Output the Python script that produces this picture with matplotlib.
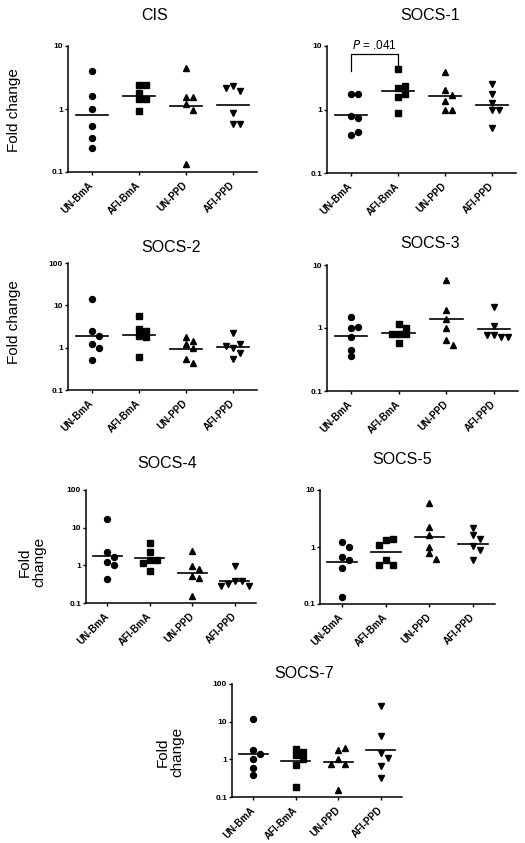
import numpy as np
import matplotlib.pyplot as plt
from matplotlib.ticker import FixedLocator, NullLocator

plt.rcParams['font.family'] = ['Liberation Sans', 'DejaVu Sans']

# groups on the x axis
groups = ['UN-BmA', 'AFI-BmA', 'UN-PPD', 'AFI-PPD']

# fold change values, one list per group
cis = [[4.0, 1.63, 1.0, 0.54, 0.345, 0.237],
       [2.41, 2.41, 1.82, 1.43, 1.43, 0.92],
       [4.5, 1.19, 1.55, 1.55, 0.98, 0.135],
       [2.35, 1.96, 2.13, 0.87, 0.57, 0.57]]
cis_med = [0.81, 1.63, 1.12, 1.16]

socs1 = [[1.74, 1.74, 0.80, 0.73, 0.39, 0.44],
         [4.35, 2.16, 2.33, 1.74, 1.56, 0.89],
         [3.9, 2.06, 1.68, 1.37, 0.99, 0.99],
         [2.56, 1.78, 1.27, 0.99, 0.99, 0.51]]
socs1_med = [0.81, 1.96, 1.62, 1.16]

socs2 = [[14.5, 2.5, 1.92, 1.22, 1.0, 0.5],
         [5.5, 2.77, 1.92, 2.48, 1.76, 0.61],
         [1.76, 1.22, 1.41, 0.96, 0.54, 0.43],
         [2.18, 0.96, 1.2, 1.11, 0.73, 0.53]]
socs2_med = [1.89, 2.03, 0.95, 1.04]

socs3 = [[1.48, 1.0, 1.04, 0.71, 0.45, 0.36],
         [1.14, 1.0, 0.80, 0.80, 0.80, 0.57],
         [5.8, 1.91, 1.39, 1.0, 0.65, 0.54],
         [2.15, 1.09, 0.77, 0.73, 0.77, 0.73]]
socs3_med = [0.75, 0.84, 1.37, 0.98]

socs4 = [[17.5, 2.22, 1.63, 1.23, 1.0, 0.44],
         [3.8, 2.26, 1.41, 1.39, 1.13, 0.69],
         [2.36, 0.98, 0.8, 0.52, 0.47, 0.15],
         [0.96, 0.38, 0.38, 0.32, 0.29, 0.29]]
socs4_med = [1.81, 1.57, 0.64, 0.38]

socs5 = [[1.21, 1.0, 0.67, 0.58, 0.42, 0.133],
         [1.33, 1.36, 1.1, 0.58, 0.48, 0.48],
         [5.8, 2.21, 1.6, 1.0, 0.77, 0.62],
         [2.12, 1.62, 1.38, 1.04, 0.87, 0.58]]
socs5_med = [0.545, 0.81, 1.5, 1.14]

socs7 = [[11.8, 1.81, 1.42, 1.0, 0.6, 0.39],
         [1.92, 1.57, 1.28, 1.0, 0.71, 0.18],
         [1.81, 1.96, 1.0, 0.74, 0.74, 0.15],
         [25.8, 4.2, 1.47, 1.1, 0.68, 0.31]]
socs7_med = [1.36, 0.92, 0.85, 1.81]

# p value bracket on SOCS-1 (left end, right end, top)
p_text = '.041'
p_left, p_right, p_top = 4.05, 4.7, 7.4

W, H = 525, 843
fig = plt.figure(figsize=(W / 100, H / 100), dpi=100)

markers = ['o', 's', '^', 'v']
msizes = [4.3, 4.0, 4.6, 4.6]


def px_axes(l, t, r, b):
    return fig.add_axes([l / W, 1 - b / H, (r - l) / W, (b - t) / H])


def swarm_x(ax, vals, xc, step_px=7.0, min_px=6.0):
    tr = ax.transData
    unit = tr.transform((1, 1))[0] - tr.transform((0, 1))[0]
    placed = []
    xs = []
    for v in vals:
        y = tr.transform((xc, v))[1]
        for s in [0, 1, -1, 2, -2, 3, -3]:
            if all(not (ps == s and abs(py - y) < min_px) for ps, py in placed):
                break
        placed.append((s, y))
        xs.append(xc + s * step_px / unit)
    return xs


def panel(box, title, title_xy, data, med, ymax, ylabel=None, ylabel_xy=None):
    ax = px_axes(*box)
    ax.set_yscale('log')
    ax.set_xlim(-0.5, 3.5)
    ax.set_ylim(0.1, ymax)
    for side in ['top', 'right']:
        ax.spines[side].set_visible(False)
    for side in ['left', 'bottom']:
        ax.spines[side].set_linewidth(1.1)
    yt = [0.1, 1, 10, 100][:int(round(np.log10(ymax))) + 2]
    ax.yaxis.set_major_locator(FixedLocator(yt))
    ax.yaxis.set_minor_locator(NullLocator())
    ax.set_yticklabels([('%g' % t) for t in yt], fontsize=6, fontweight='bold')
    ax.set_xticks(range(4))
    ax.set_xticklabels(groups, rotation=45, ha='right', va='center',
                       rotation_mode='anchor', fontsize=7, fontweight='bold')
    ax.tick_params(axis='both', length=2.5, width=1, direction='out', pad=1)
    ax.tick_params(axis='x', pad=6)
    for i, vals in enumerate(data):
        xs = swarm_x(ax, vals, i)
        ax.plot(xs, vals, linestyle='none', marker=markers[i], ms=msizes[i],
                color='black', clip_on=False)
        ax.plot([i - 0.34, i + 0.34], [med[i], med[i]], color='black', lw=1.2)
    fig.text(title_xy[0] / W, 1 - title_xy[1] / H, title, fontsize=11.5,
             ha='center', va='center')
    if ylabel:
        fig.text(ylabel_xy[0] / W, 1 - ylabel_xy[1] / H, ylabel, fontsize=11,
                 rotation=90, ha='center', va='center', linespacing=1.0)
    return ax


panel((68, 46, 257, 172), 'CIS', (155, 15), cis, cis_med, 10,
      'Fold change', (14, 110))
ax1 = panel((327, 46, 516, 173), 'SOCS-1', (430, 15), socs1, socs1_med, 10)
panel((68, 263, 257, 390), 'SOCS-2', (171, 247), socs2, socs2_med, 100,
      'Fold change', (14, 322))
panel((327, 265, 518, 391), 'SOCS-3', (430, 243), socs3, socs3_med, 10)
panel((86, 490, 256, 603), 'SOCS-4', (167, 463), socs4, socs4_med, 100,
      'Fold\nchange', (32, 562))
panel((320, 490, 495, 604), 'SOCS-5', (402, 460), socs5, socs5_med, 10)
panel((232, 684, 402, 797), 'SOCS-7', (304, 673), socs7, socs7_med, 100,
      'Fold\nchange', (170, 752))

# significance bracket
ax1.plot([0, 0, 1, 1], [p_left, p_top, p_top, p_right], color='black', lw=0.9)
ax1.text(0.5, p_top * 1.08, '$P$ = ' + p_text, ha='center', va='bottom',
         fontsize=8.5)

fig.savefig('out.png', dpi=100)
